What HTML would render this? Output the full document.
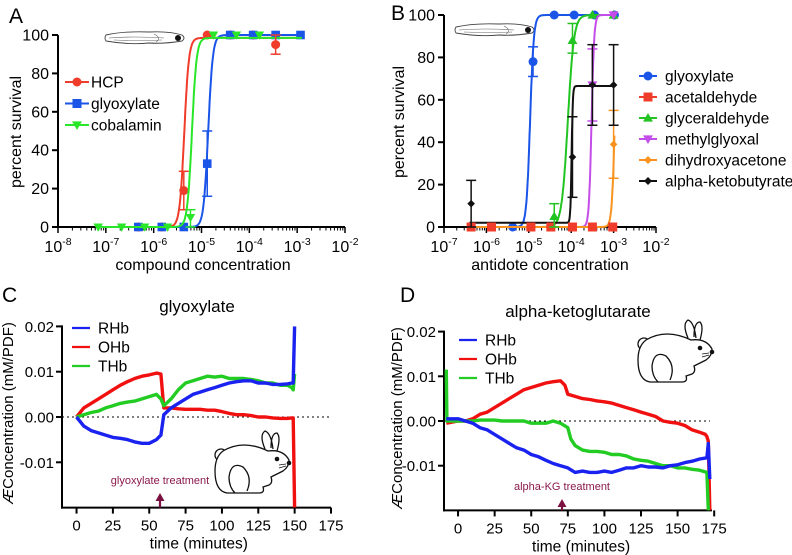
<!DOCTYPE html>
<html><head><meta charset="utf-8"><style>
body{margin:0;background:#fff}
svg{display:block;font-family:"Liberation Sans",sans-serif}
</style></head><body>
<svg id="fig" width="792" height="555" viewBox="0 0 792 555">
<defs>
<g id="fish">
<path d="M2,6 Q20,2 45,3 Q65,2 78,6 Q82,9 78,12 Q60,15 45,14 Q25,16 2,12 Q0,9 2,6Z" fill="#fff" stroke="#444" stroke-width="0.9"/>
<path d="M5,9 Q30,7 60,9 M10,11 Q35,12 58,11 M50,5 Q58,9 52,13" fill="none" stroke="#666" stroke-width="0.6"/>
<circle cx="74" cy="9" r="3" fill="#111"/>
</g>
<g id="rabbit" fill="#fff" stroke="#111" stroke-width="1.3">
<path d="M52,22 Q46,8 52,4 Q58,6 60,22 M58,21 Q58,6 64,6 Q68,10 64,24" />
<circle cx="8" cy="28" r="6"/>
<path d="M10,24 Q30,12 55,24 Q70,22 76,33 Q76,40 70,44 Q62,48 58,50 Q60,56 56,58 L50,60 Q52,66 46,66 L14,66 Q2,64 2,44 Q2,30 10,24Z"/>
<path d="M34,64 Q40,50 30,40 Q18,34 16,50 Q16,60 22,66" fill="none"/>
<circle cx="64" cy="32" r="2.3" fill="#111" stroke="none"/>
<circle cx="76" cy="36" r="2.3" fill="#111" stroke="none"/>
<path d="M66,38 L73,37 M66,41 L73,39" stroke-width="0.7" fill="none"/>
</g>
</defs>
</svg>
<script>
// ---------- Panel A data ----------
const aHcpX=[-6.32,-5.83,-5.37,-4.88,-4.4,-3.92,-3.45];
const aHcpY=[0,0,19,100,100,100,95];
const aGlyX=[-6.32,-5.83,-5.37,-4.88,-4.4,-3.92,-3.45,-2.93];
const aGlyY=[0,0,0,33,100,100,100,100];
const aCobX=[-7.16,-6.67,-6.19,-5.71,-5.23,-4.75,-4.27,-3.79];
const aCobY=[0,0,0,0,5,100,100,100];
const aErrX=[-5.37,-4.88,-5.23,-3.45];
const aErrLo=[9,16,0,90];
const aErrHi=[29,50,9,100];
const aErrSeries=['hcp','gly','cob','hcp'];
const aFitEC50=[-5.36,-4.86,-5.2];
const aFitTop=[98.5,100,98.5];
const aXTicks=[-8,-7,-6,-5,-4,-3,-2];
const aYTicks=[0,20,40,60,80,100];
// ---------- Panel B data ----------
const bGlyX=[-5.38,-4.9,-4.4,-3.93,-3.45,-2.98];
const bGlyY=[0,78,100,100,100,100];
const bAceX=[-6.36,-5.88,-4.95,-4.48,-3.97,-3.5,-3.02];
const bAceY=[0,0,0,0,0,0,0];
const bGlcX=[-4.4,-3.97,-3.5,-3.0];
const bGlcY=[5,88,100,100];
const bMetX=[-3.5,-3.0];
const bMetY=[67,100];
const bDihX=[-3.0];
const bDihY=[39];
const bAktX=[-6.36,-3.97,-3.5,-3.0];
const bAktY=[11,33,67,67];
const bErrX=[-4.9,-4.4,-3.97,-3.5,-3.0,-6.36,-3.97,-3.5,-3.0];
const bErrLo=[71,0,82,50,23,0,14,48,48];
const bErrHi=[85,11,96,84,55,22,52,86,86];
const bErrSeries=['gly','glc','glc','met','dih','akt','akt','akt','akt'];
const bFitEC50=[-4.97,-4.08,-3.52,-2.97,-3.99];
const bFitBottom=[0,0,0,0,2];
const bFitTop=[100,100,100,100,66.5];
const bXTicks=[-7,-6,-5,-4,-3,-2];
// ---------- Panel C data ----------
const cT=[0,5,10,15,20,25,30,35,40,45,50,55,58,60,65,70,75,80,85,90,95,100,105,110,115,120,125,130,135,140,145,148,149,150];
const cRHb=[0,-0.002,-0.003,-0.0035,-0.004,-0.0045,-0.0047,-0.005,-0.0055,-0.0058,-0.0058,-0.005,-0.004,0.0005,0.002,0.003,0.004,0.005,0.0055,0.006,0.0065,0.007,0.0075,0.0078,0.008,0.008,0.0075,0.0075,0.0072,0.0072,0.0073,0.0075,0.0075,0.02];
const cOHb=[0,0.002,0.003,0.004,0.005,0.006,0.007,0.0078,0.0085,0.009,0.0093,0.0097,0.0095,0.002,0.002,0.0018,0.0017,0.0017,0.0017,0.0015,0.0015,0.0012,0.0008,0.0005,0.0005,0.0003,0,0,-0.0002,-0.0003,-0.0003,-0.0002,-0.0002,-0.02];
const cTHb=[0,0.0005,0.001,0.0013,0.002,0.0025,0.003,0.0033,0.0035,0.004,0.0045,0.005,0.004,0.0025,0.004,0.006,0.0075,0.008,0.0085,0.009,0.0088,0.009,0.0085,0.0085,0.0085,0.0083,0.008,0.0075,0.0075,0.007,0.007,0.0065,0.006,0.0095];
// ---------- Panel D data ----------
const dT=[-8,0,5,10,15,20,25,30,35,40,45,50,55,60,65,70,73,75,80,85,90,95,100,105,110,115,120,125,130,135,140,145,150,155,160,165,169,170,171,172];
const dRHb=[0.0005,0.0005,0,-0.0005,-0.0015,-0.002,-0.003,-0.004,-0.005,-0.006,-0.0065,-0.0075,-0.008,-0.0088,-0.0095,-0.01,-0.0103,-0.0105,-0.0115,-0.0112,-0.0115,-0.0115,-0.0112,-0.0115,-0.011,-0.0105,-0.0105,-0.01,-0.0103,-0.0103,-0.0105,-0.01,-0.0098,-0.0093,-0.009,-0.0085,-0.0083,-0.0082,-0.005,-0.013];
const dOHb=[-0.0005,0,0,0.0005,0.0015,0.002,0.003,0.004,0.005,0.006,0.007,0.0075,0.008,0.0085,0.0088,0.009,0.008,0.006,0.0055,0.005,0.0048,0.0045,0.0043,0.004,0.0035,0.003,0.0025,0.002,0.0015,0.001,0,-0.0003,-0.0005,-0.001,-0.002,-0.0025,-0.003,-0.0035,-0.0045,-0.02];
const dTHbT=[-8,-7.6,0,5,10,15,20,25,30,35,40,45,50,55,60,65,70,75,77,80,85,90,95,100,105,110,115,120,125,130,135,140,145,150,155,160,165,170,171];
const dTHb=[0.0115,0,0,0,0,0.0002,0.0002,0.0002,0,0,0,0,-0.0005,-0.0005,-0.0005,0,-0.0005,-0.0015,-0.004,-0.0055,-0.0065,-0.0068,-0.0068,-0.007,-0.0075,-0.0075,-0.0078,-0.0085,-0.0088,-0.009,-0.0095,-0.01,-0.01,-0.0105,-0.0105,-0.0108,-0.011,-0.0115,-0.02];
const cdXTicks=[0,25,50,75,100,125,150,175];
const cdYTicks=[0.02,0.01,0,-0.01];
const cdYTickLabels=['0.02','0.01','0.00','-0.01'];

const NS='http://www.w3.org/2000/svg';
const svg=document.getElementById('fig');
function mk(tag,attrs,parent,text){const e=document.createElementNS(NS,tag);for(const k in attrs)e.setAttribute(k,attrs[k]);if(text!==undefined)e.textContent=text;(parent||svg).appendChild(e);return e;}
function grp(name){const g=mk('g',{});


return g;}
const COL={hcp:'#f03c2a',gly:'#1a55e8',cob:'#29e629',ace:'#f03c2a',glc:'#22c422',met:'#c44ce8',dih:'#f7931e',akt:'#111'};
function marker(g,shape,x,y,c,s){
 let e;
 if(shape==='circle')e=mk('circle',{cx:x,cy:y,r:s,fill:c},g);
 else if(shape==='square')e=mk('rect',{x:x-s,y:y-s,width:2*s,height:2*s,fill:c},g);
 else if(shape==='tri')e=mk('polygon',{points:`${x},${y-s*1.1} ${x-s*1.1},${y+s*0.8} ${x+s*1.1},${y+s*0.8}`,fill:c},g);
 else if(shape==='itri')e=mk('polygon',{points:`${x},${y+s*1.1} ${x-s*1.1},${y-s*0.8} ${x+s*1.1},${y-s*0.8}`,fill:c},g);
 else e=mk('polygon',{points:`${x},${y-s} ${x+s},${y} ${x},${y+s} ${x-s},${y}`,fill:c},g);
 
 
}
function hill(x,bot,top,ec,h){return bot+(top-bot)/(1+Math.pow(10,(ec-x)*h));}

// ================= Panel A =================
(function(){
 const x0=58,x1=345,y0=227,y1=35,dmin=-8,dmax=-2;
 const sx=d=>x0+(d-dmin)/(dmax-dmin)*(x1-x0);
 const sy=v=>y0-(v/100)*(y0-y1);
 const g=grp('panel-a');
 mk('text',{x:9,y:23,'font-size':21},g,'A');
 mk('use',{href:'#fish',x:104,y:29},g);
 const ax=grp('a-axes');
 mk('line',{x1:x0,y1:y1,x2:x0,y2:y0+1,stroke:'#000','stroke-width':2},ax);
 mk('line',{x1:x0-1,y1:y0,x2:x1,y2:y0,stroke:'#000','stroke-width':2},ax);
 aYTicks.forEach(v=>{mk('line',{x1:x0-6,y1:sy(v),x2:x0,y2:sy(v),stroke:'#000','stroke-width':2},ax);
  mk('text',{x:x0-9,y:sy(v)+5.5,'font-size':16,'text-anchor':'end'},ax,String(v));});
 aXTicks.forEach((d,i)=>{mk('line',{x1:sx(d),y1:y0,x2:sx(d),y2:y0+6,stroke:'#000','stroke-width':1.5},ax);
  const t=mk('text',{x:sx(d),y:y0+25,'font-size':16,'text-anchor':'middle'},ax,'10');
  mk('tspan',{'font-size':10.5,dy:-7},t,String(d));
  if(i<aXTicks.length-1)for(let k=2;k<10;k++){const xx=sx(d+Math.log10(k));mk('line',{x1:xx,y1:y0,x2:xx,y2:y0+3.5,stroke:'#000','stroke-width':1},ax);}});
 mk('text',{x:203,y:270,'font-size':16,'text-anchor':'middle'},ax,'compound concentration');
 mk('text',{x:0,y:0,'font-size':16,'text-anchor':'middle',transform:'translate(21,132) rotate(-90)'},ax,'percent survival');
 const ser=[['hcp',aHcpX,aHcpY,'circle'],['gly',aGlyX,aGlyY,'square'],['cob',aCobX,aCobY,'itri']];
 ser.forEach((s,i)=>{
  const sg=grp('series-'+s[0]+'-a');
  let p='';for(let d=-7.2;d<=-2.9;d+=0.01){p+=(p?'L':'M')+sx(d).toFixed(1)+','+sy(hill(d,0,aFitTop[i],aFitEC50[i],9)).toFixed(1);}
  mk('path',{d:p,fill:'none',stroke:COL[s[0]],'stroke-width':2},sg);
  s[1].forEach((d,j)=>marker(sg,s[3],sx(d),sy(s[2][j]),COL[s[0]],s[3]==='circle'?4.5:4.3));
 });
 aErrX.forEach((d,i)=>{const c=COL[aErrSeries[i]],x=sx(d);const eg=grp('error-bar');
  mk('line',{x1:x,y1:sy(aErrLo[i]),x2:x,y2:sy(aErrHi[i]),stroke:c,'stroke-width':1.5},eg);
  [aErrLo[i],aErrHi[i]].forEach(v=>mk('line',{x1:x-5,y1:sy(v),x2:x+5,y2:sy(v),stroke:c,'stroke-width':1.5},eg));});
 const lg=grp('legend-a');
 [['HCP','hcp','circle'],['glyoxylate','gly','square'],['cobalamin','cob','itri']].forEach((e,i)=>{
  const y=82+i*21.5;const le=grp('legend-entry');lg.appendChild(le);
  mk('line',{x1:65,y1:y,x2:89,y2:y,stroke:COL[e[1]],'stroke-width':2},le);
  marker(le,e[2],77,y,COL[e[1]],4.5);
  mk('text',{x:91,y:y+5.5,'font-size':15.5},le,e[0]);});
})();

// ================= Panel B =================
(function(){
 const x0=444,x1=656,y0=227,y1=15,dmin=-7,dmax=-2;
 const sx=d=>x0+(d-dmin)/(dmax-dmin)*(x1-x0);
 const sy=v=>y0-(v/100)*(y0-y1);
 const g=grp('panel-b');
 mk('text',{x:391,y:20,'font-size':21},g,'B');
 mk('use',{href:'#fish',x:454,y:21},g);
 const ax=grp('b-axes');
 mk('line',{x1:x0,y1:y1,x2:x0,y2:y0+1,stroke:'#000','stroke-width':2},ax);
 mk('line',{x1:x0-1,y1:y0,x2:x1,y2:y0,stroke:'#000','stroke-width':2},ax);
 aYTicks.forEach(v=>{mk('line',{x1:x0-6,y1:sy(v),x2:x0,y2:sy(v),stroke:'#000','stroke-width':2},ax);
  mk('text',{x:x0-9,y:sy(v)+5.5,'font-size':16,'text-anchor':'end'},ax,String(v));});
 bXTicks.forEach((d,i)=>{mk('line',{x1:sx(d),y1:y0,x2:sx(d),y2:y0+6,stroke:'#000','stroke-width':1.5},ax);
  const t=mk('text',{x:sx(d),y:y0+25,'font-size':16,'text-anchor':'middle'},ax,'10');
  mk('tspan',{'font-size':10.5,dy:-7},t,String(d));
  if(i<bXTicks.length-1)for(let k=2;k<10;k++){const xx=sx(d+Math.log10(k));mk('line',{x1:xx,y1:y0,x2:xx,y2:y0+3.5,stroke:'#000','stroke-width':1},ax);}});
 mk('text',{x:550,y:270,'font-size':16,'text-anchor':'middle'},ax,'antidote concentration');
 mk('text',{x:0,y:0,'font-size':16,'text-anchor':'middle',transform:'translate(404,122) rotate(-90)'},ax,'percent survival');
 const ser=[['gly',bGlyX,bGlyY,'circle',10],['glc',bGlcX,bGlcY,'tri',6],['met',bMetX,bMetY,'itri',14],['dih',bDihX,bDihY,'diamond',12],['akt',bAktX,bAktY,'diamond',30]];
 ser.forEach((s,i)=>{
  const sg=grp('series-'+s[0]+'-b');
  let p='';for(let d=-6.4;d<=-2.98;d+=0.005){p+=(p?'L':'M')+sx(d).toFixed(1)+','+sy(hill(d,bFitBottom[i],bFitTop[i],bFitEC50[i],s[4])).toFixed(1);}
  mk('path',{d:p,fill:'none',stroke:COL[s[0]],'stroke-width':2},sg);
  s[1].forEach((d,j)=>marker(sg,s[3],sx(d),sy(s[2][j]),COL[s[0]],s[3]==='diamond'?3.8:4.5));
 });
 const ag=grp('series-ace-b');
 bAceX.forEach((d,j)=>marker(ag,'square',sx(d),sy(bAceY[j]),COL.ace,4.5));
 bErrX.forEach((d,i)=>{const c=COL[bErrSeries[i]],x=sx(d);const eg=grp('error-bar');
  mk('line',{x1:x,y1:sy(bErrLo[i]),x2:x,y2:sy(bErrHi[i]),stroke:c,'stroke-width':1.5},eg);
  [bErrLo[i],bErrHi[i]].forEach(v=>mk('line',{x1:x-5,y1:sy(v),x2:x+5,y2:sy(v),stroke:c,'stroke-width':1.5},eg));});
 const lg=grp('legend-b');
 [['glyoxylate','gly','circle'],['acetaldehyde','ace','square'],['glyceraldehyde','glc','tri'],['methylglyoxal','met','itri'],['dihydroxyacetone','dih','diamond'],['alpha-ketobutyrate','akt','diamond']].forEach((e,i)=>{
  const y=76+i*21;const le=grp('legend-entry');lg.appendChild(le);
  mk('line',{x1:639,y1:y,x2:657,y2:y,stroke:COL[e[1]],'stroke-width':2},le);
  marker(le,e[2],648,y,COL[e[1]],e[2]==='diamond'?4:4.5);
  mk('text',{x:665,y:y+5.5,'font-size':15.5},le,e[0]);});
})();

// ================= Panels C & D =================
function tsPanel(o){
 const g=grp(o.name);
 const sx=t=>o.x0+(t-o.tmin)/(o.tmax-o.tmin)*(o.x1-o.x0);
 const sy=v=>o.yZero-v/0.01*o.pxPer;
 mk('text',{x:o.letterX,y:o.letterY,'font-size':21},g,o.letter);
 mk('text',{x:o.titleX,y:o.titleY,'font-size':17,'text-anchor':'middle'},g,o.title);
 const ax=grp(o.name+'-axes');
 const yb=sy(-0.02);
 mk('line',{x1:o.x0,y1:sy(0.02)-1,x2:o.x0,y2:yb+1,stroke:'#000','stroke-width':2},ax);
 mk('line',{x1:o.x0-1,y1:yb,x2:o.x1,y2:yb,stroke:'#000','stroke-width':2},ax);
 cdYTicks.forEach((v,i)=>{mk('line',{x1:o.x0-6,y1:sy(v),x2:o.x0,y2:sy(v),stroke:'#000','stroke-width':2},ax);
  mk('text',{x:o.x0-8,y:sy(v)+5.5,'font-size':15,'text-anchor':'end'},ax,cdYTickLabels[i]);});
 cdXTicks.forEach(t=>{mk('line',{x1:sx(t),y1:yb,x2:sx(t),y2:yb+6,stroke:'#000','stroke-width':2},ax);
  mk('text',{x:sx(t),y:yb+23,'font-size':15,'text-anchor':'middle'},ax,String(t));});
 mk('text',{x:(sx(0)+sx(175))/2-5,y:yb+41,'font-size':15.5,'text-anchor':'middle'},ax,'time (minutes)');
 const yl=mk('text',{x:0,y:0,'font-size':15,'text-anchor':'middle',transform:`translate(${o.ylabX},${o.ylabY}) rotate(-90)`},ax);
 
 mk('tspan',{'font-style':'italic'},yl,'Æ');mk('tspan',{},yl,'Concentration (mM/PDF)');
 mk('line',{x1:o.x0,y1:sy(0),x2:o.dotEnd,y2:sy(0),stroke:'#000','stroke-width':1,'stroke-dasharray':'2,3'},g);
 const clip='clip-'+o.name;
 const cp=mk('clipPath',{id:clip},svg);mk('rect',{x:o.x0,y:sy(0.02)-4,width:o.x1-o.x0+4,height:yb-sy(0.02)+4},cp);
 o.series.forEach(s=>{const sg=grp('series-'+s[0]);sg.setAttribute('clip-path',`url(#${clip})`);
  const pts=s[1].map((t,i)=>sx(t).toFixed(1)+','+sy(s[2][i]).toFixed(1)).join(' ');
  mk('polyline',{points:pts,fill:'none',stroke:s[3],'stroke-width':3.4,'stroke-linejoin':'round'},sg);});
 const lg=grp(o.name+'-legend');
 [['RHb','#1a22f0'],['OHb','#f01010'],['THb','#22cc22']].forEach((e,i)=>{const y=o.legY+i*19;const le=grp('legend-entry');lg.appendChild(le);
  mk('line',{x1:o.legX,y1:y,x2:o.legX+18,y2:y,stroke:e[1],'stroke-width':2.2},le);
  mk('text',{x:o.legX+26,y:y+5.5,'font-size':15.5},le,e[0]);});
 const an=grp('treatment-annotation');
 mk('text',{x:o.arX,y:o.arTextY,'font-size':11,'text-anchor':'middle',fill:'#8b1a4e'},an,o.arText);
 mk('line',{x1:o.arX,y1:o.arTextY+17,x2:o.arX,y2:yb,stroke:'#7a1040','stroke-width':2.2},an);
 mk('polygon',{points:`${o.arX},${o.arTextY+9} ${o.arX-4.5},${o.arTextY+17} ${o.arX+4.5},${o.arTextY+17}`,fill:'#7a1040'},an);
 mk('use',{href:'#rabbit',x:o.rabX,y:o.rabY},g);
}
tsPanel({name:'panel-c',letter:'C',letterX:2,letterY:302,title:'glyoxylate',titleX:197,titleY:312,x0:62,x1:331,tmin:-10,tmax:175,yZero:417,pxPer:45.3,
 ylabX:13,ylabY:413,dotEnd:330,legX:72,legY:328,arX:160,arTextY:484,arText:'glyoxylate treatment',rabX:213,rabY:427,
 series:[['ohb-c',cT,cOHb,'#f01010'],['thb-c',cT,cTHb,'#22cc22'],['rhb-c',cT,cRHb,'#1a22f0']]});
tsPanel({name:'panel-d',letter:'D',letterX:400,letterY:302,title:'alpha-ketoglutarate',titleX:578,titleY:317,x0:444,x1:712,tmin:-9.6,tmax:173.5,yZero:421,pxPer:44.7,
 ylabX:402,ylabY:418,dotEnd:710,legX:459,legY:340,arX:562,arTextY:490,arText:'alpha-KG treatment',rabX:636,rabY:316,
 series:[['ohb-d',dT,dOHb,'#f01010'],['thb-d',dTHbT,dTHb,'#22cc22'],['rhb-d',dT,dRHb,'#1a22f0']]});
</script>
</body></html>
